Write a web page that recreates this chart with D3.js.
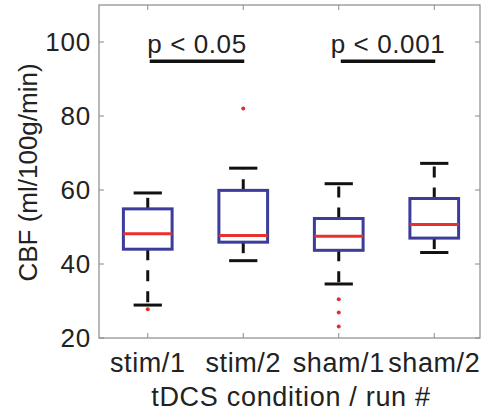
<!DOCTYPE html>
<html>
<head>
<meta charset="utf-8">
<script src="https://cdn.jsdelivr.net/npm/d3@7"></script>
<style>
  body { margin: 0; background: #fff; }
  text { font-family: "Liberation Sans", Arial, sans-serif; fill: #222; }
</style>
</head>
<body>
<div id="chart"></div>
<script>
/**
 * DATA
 * */
const categories = ["stim/1", "stim/2", "sham/1", "sham/2"];
const q1 = [44.0, 45.9, 43.7, 47.0];
const medians = [48.2, 47.7, 47.5, 50.7];
const q3 = [54.9, 59.9, 52.3, 57.7];
const whiskerLow = [28.9, 40.9, 34.6, 43.1];
const whiskerHigh = [59.2, 65.9, 61.7, 67.2];
const outliers = [[27.8], [82.0], [30.5, 26.9, 23.1], []];
const yTicks = [20, 40, 60, 80, 100];
const sigPairs = [
  { from: "stim/1", to: "stim/2", label: "p < 0.05", level: 94.8 },
  { from: "sham/1", to: "sham/2", label: "p < 0.001", level: 94.8 },
];

/**
 * CONSTANTS
 * */
const width = 483,
  height = 411,
  margin = { top: 5, bottom: 73, left: 99, right: 2 };

const svg = d3.select("#chart")
  .append("svg")
  .attr("width", width)
  .attr("height", height);

const x = d3.scaleBand()
  .domain(categories)
  .range([margin.left + 1, width - margin.right + 1]);

const y = d3.scaleLinear()
  .domain([20, 110])
  .range([height - margin.bottom, margin.top]);

const xc = d => x(d) + x.bandwidth() / 2;
const boxW = x.bandwidth() * 0.51;
const capW = boxW * 0.58;

const boxes = categories.map((c, i) => ({
  cat: c, q1: q1[i], med: medians[i], q3: q3[i],
  lo: whiskerLow[i], hi: whiskerHigh[i], out: outliers[i],
}));

// frame
const x0 = margin.left, x1 = width - margin.right - 1;
const y0 = y(110), y1 = y(20);
svg.append("rect")
  .attr("x", x0).attr("y", y0)
  .attr("width", x1 - x0).attr("height", y1 - y0)
  .attr("fill", "none").attr("stroke", "#8a8a8a").attr("stroke-width", 1.2);

// ticks (inward, all four sides)
const tickLen = 5;
const tickG = svg.append("g").attr("stroke", "#8a8a8a").attr("stroke-width", 1);
yTicks.forEach(t => {
  tickG.append("line").attr("x1", x0).attr("x2", x0 + tickLen).attr("y1", y(t)).attr("y2", y(t));
  tickG.append("line").attr("x1", x1).attr("x2", x1 - tickLen).attr("y1", y(t)).attr("y2", y(t));
});
categories.forEach(c => {
  tickG.append("line").attr("x1", xc(c)).attr("x2", xc(c)).attr("y1", y1).attr("y2", y1 - tickLen);
  tickG.append("line").attr("x1", xc(c)).attr("x2", xc(c)).attr("y1", y0).attr("y2", y0 + tickLen);
});

// y tick labels
svg.append("g").selectAll("text")
  .data(yTicks)
  .join("text")
  .attr("x", x0 - 8)
  .attr("y", d => y(d))
  .attr("dy", "0.36em")
  .attr("text-anchor", "end")
  .attr("font-size", 26)
  .attr("letter-spacing", 0.8)
  .text(d => d);

// x tick labels
svg.append("g").selectAll("text")
  .data(categories)
  .join("text")
  .attr("x", d => xc(d))
  .attr("y", 372)
  .attr("text-anchor", "middle")
  .attr("font-size", 27)
  .attr("letter-spacing", 0.6)
  .text(d => d);

// axis titles
svg.append("text")
  .attr("x", 291)
  .attr("y", 406)
  .attr("text-anchor", "middle")
  .attr("font-size", 27)
  .attr("letter-spacing", 0.7)
  .text("tDCS condition / run #");

svg.append("text")
  .attr("transform", `translate(37,${(y0 + y1) / 2 + 1}) rotate(-90)`)
  .attr("text-anchor", "middle")
  .attr("font-size", 26)
  .text("CBF (ml/100g/min)");

// boxplots
const g = svg.selectAll("g.box")
  .data(boxes)
  .join("g")
  .attr("class", "box");

// whiskers (dashed, drawn from box edge outward)
g.append("line")
  .attr("x1", d => xc(d.cat)).attr("x2", d => xc(d.cat))
  .attr("y1", d => y(d.q3)).attr("y2", d => y(d.hi))
  .attr("stroke", "#111").attr("stroke-width", 3)
  .attr("stroke-dasharray", "11,10");
g.append("line")
  .attr("x1", d => xc(d.cat)).attr("x2", d => xc(d.cat))
  .attr("y1", d => y(d.q1)).attr("y2", d => y(d.lo))
  .attr("stroke", "#111").attr("stroke-width", 3)
  .attr("stroke-dasharray", "11,10");

// caps
["hi", "lo"].forEach(k => {
  g.append("line")
    .attr("x1", d => xc(d.cat) - capW / 2).attr("x2", d => xc(d.cat) + capW / 2)
    .attr("y1", d => y(d[k])).attr("y2", d => y(d[k]))
    .attr("stroke", "#111").attr("stroke-width", 3);
});

// box
g.append("rect")
  .attr("x", d => xc(d.cat) - boxW / 2)
  .attr("y", d => y(d.q3))
  .attr("width", boxW)
  .attr("height", d => y(d.q1) - y(d.q3))
  .attr("fill", "none")
  .attr("stroke", "#3c3c9c")
  .attr("stroke-width", 3);

// median
g.append("line")
  .attr("x1", d => xc(d.cat) - boxW / 2).attr("x2", d => xc(d.cat) + boxW / 2)
  .attr("y1", d => y(d.med)).attr("y2", d => y(d.med))
  .attr("stroke", "#e8302c").attr("stroke-width", 3);

// outliers
g.selectAll("circle")
  .data(d => d.out.map(v => ({ cat: d.cat, v })))
  .join("circle")
  .attr("cx", d => xc(d.cat))
  .attr("cy", d => y(d.v))
  .attr("r", 2)
  .attr("fill", "#e0302c");

// significance bars
sigPairs.forEach(p => {
  const a = xc(p.from) + 2, b = xc(p.to) + 1;
  svg.append("line")
    .attr("x1", a).attr("x2", b)
    .attr("y1", y(p.level)).attr("y2", y(p.level))
    .attr("stroke", "#111").attr("stroke-width", 3.5);
  svg.append("text")
    .attr("x", (a + b) / 2)
    .attr("y", 53)
    .attr("text-anchor", "middle")
    .attr("font-size", 26)
    .attr("letter-spacing", 0.6)
    .text(p.label);
});
</script>
</body>
</html>
